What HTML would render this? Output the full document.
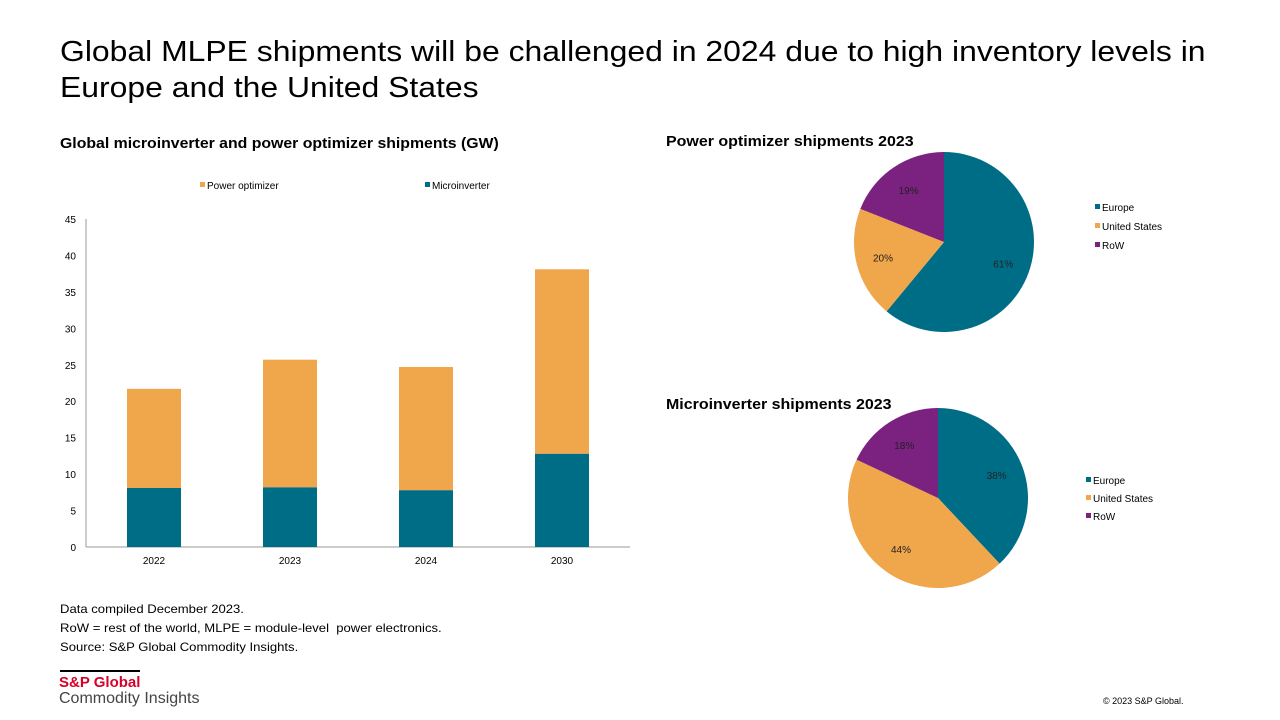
<!DOCTYPE html>
<html><head><meta charset="utf-8"><style>
body{margin:0;width:1280px;height:720px;background:#fff;font-family:"Liberation Sans",sans-serif;position:relative;overflow:hidden}
.t{position:absolute;white-space:nowrap;color:#000;transform-origin:0 0}
</style></head><body>
<div class="t" style="left:60px;top:34px;font-size:29px;line-height:36px;transform:scaleX(1.1)">Global MLPE shipments will be challenged in 2024 due to high inventory levels in<br>Europe and the United States</div>
<div class="t" style="left:60px;top:135px;font-size:15px;font-weight:bold;transform:scaleX(1.055)">Global microinverter and power optimizer shipments (GW)</div>
<div class="t" style="left:666px;top:133px;font-size:15px;font-weight:bold;transform:scaleX(1.065)">Power optimizer shipments 2023</div>
<div class="t" style="left:666px;top:396px;font-size:15px;font-weight:bold;transform:scaleX(1.065)">Microinverter shipments 2023</div>
<div class="t" style="left:60px;top:600px;font-size:12px;line-height:19px;transform:scaleX(1.09)">Data compiled December 2023.<br>RoW = rest of the world, MLPE = module-level&nbsp; power electronics.<br>Source: S&amp;P Global Commodity Insights.</div>
<div style="position:absolute;left:60px;top:670px;width:80px;height:2px;background:#000"></div>
<div class="t" style="left:59px;top:674px;font-size:15px;font-weight:bold;color:#d6002a">S&amp;P Global</div>
<div class="t" style="left:59px;top:690px;font-size:16px;color:#444">Commodity Insights</div>
<div class="t" style="left:1103px;top:696px;font-size:9px">© 2023 S&amp;P Global.</div>
<svg id="c" width="1280" height="720" style="position:absolute;left:0;top:0"></svg>
<script>
const categories=["2022","2023","2024","2030"];
const micro=[8.1,8.2,7.8,12.8];
const optimizer=[13.6,17.5,16.9,25.3];
const yTicks=[0,5,10,15,20,25,30,35,40,45];
const pieLabels=["Europe","United States","RoW"];
const pie1=[61,20,19];
const pie2=[38,44,18];
const colors=["#006d87","#f0a64a","#7b2180"];
const svg=document.getElementById('c');const NS="http://www.w3.org/2000/svg";
function el(t,a,txt){const e=document.createElementNS(NS,t);for(const k in a)e.setAttribute(k,a[k]);if(txt!==undefined)e.textContent=txt;svg.appendChild(e);return e;}
const x0=86,x1=630,yB=547,yT=219;
const y=v=>yB-(v/45)*(yB-yT);
const bw=(x1-x0)/categories.length;
const xc=i=>x0+bw*(i+0.5);
let a=el('line',{x1:x0,y1:yT,x2:x0,y2:yB,stroke:'#999'});

a=el('line',{x1:x0,y1:yB,x2:x1,y2:yB,stroke:'#999'});

yTicks.forEach(v=>{const t=el('text',{x:76,y:y(v)+4,'text-anchor':'end','font-size':10},v);
});
categories.forEach((c,i)=>{
const w=54;
let r=el('rect',{x:xc(i)-w/2,y:y(micro[i]),width:w,height:yB-y(micro[i]),fill:colors[0]});

r=el('rect',{x:xc(i)-w/2,y:y(micro[i]+optimizer[i]),width:w,height:y(micro[i])-y(micro[i]+optimizer[i]),fill:colors[1]});

const t=el('text',{x:xc(i),y:564,'text-anchor':'middle','font-size':10},c);

});
[[200,"Power optimizer",colors[1]],[425,"Microinverter",colors[0]]].forEach(([lx,n,col])=>{
let r=el('rect',{x:lx,y:182,width:5,height:5,fill:col});

let t=el('text',{x:lx+7,y:189,'font-size':10},n);

});
function pie(vals,cx,cy,R,lx,ly,ldy,name){
let ang=0;const tot=vals.reduce((s,v)=>s+v,0);
vals.forEach((v,i)=>{
const a0=ang,a1=ang+v/tot*2*Math.PI;ang=a1;
const p=t=>[cx+R*Math.sin(t),cy-R*Math.cos(t)];
const [sx,sy]=p(a0),[ex,ey]=p(a1);
const s=el('path',{d:`M${cx},${cy}L${sx},${sy}A${R},${R} 0 ${a1-a0>Math.PI?1:0} 1 ${ex},${ey}Z`,fill:colors[i]});

const m=(a0+a1)/2,lr=R*0.7;
const t=el('text',{x:cx+lr*Math.sin(m),y:cy-lr*Math.cos(m)+4,'text-anchor':'middle','font-size':10,fill:'#222'},v+'%');

const r=el('rect',{x:lx,y:ly+i*ldy-4,width:5,height:5,fill:colors[i]});

const lt=el('text',{x:lx+7,y:ly+i*ldy+3,'font-size':10},pieLabels[i]);

});}
pie(pie1,944,242,90,1095,208,19,'pie1');
pie(pie2,938,498,90,1086,481,18,'pie2');
</script>
</body></html>
